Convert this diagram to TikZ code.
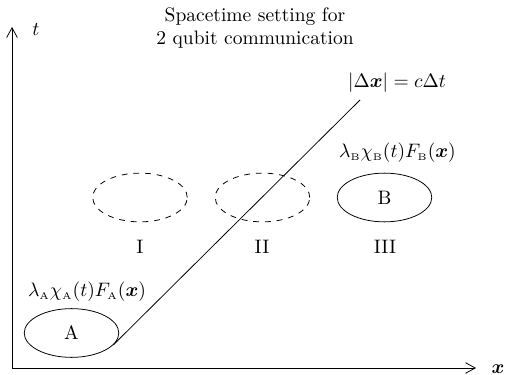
\documentclass[tikz,border=0pt]{standalone}
\usepackage{amsmath}
\usetikzlibrary{arrows.meta,shapes.geometric}
\begin{document}
\begin{tikzpicture}[x=0.5128pt,y=-0.5128pt,
  region/.style={draw,ellipse,minimum width=48.5pt,minimum height=25pt,inner sep=0pt},
  virt/.style={region,dashed},
  axis/.style={-{Straight Barb[length=5pt,width=5.5pt]}},
  lbl/.style={inner sep=0pt}]
\useasboundingbox (0,0) rectangle (506,375);
\coordinate (O) at (12,368);
\coordinate (T) at (12,27);
\coordinate (X) at (476,368);
\draw[axis] (O) -- (T);
\draw[axis] (O) -- (X);
\node[lbl] (tl) at (36,30) {$t$};
\node[lbl] (xl) at (498,369) {$\boldsymbol{x}$};
\node[lbl,align=center] (title) at (255,28) {Spacetime setting for\\2 qubit communication};
\node[region] (A) at (71.5,333) {A};
\node[virt] (I) at (140,197.5) {};
\node[virt] (II) at (262.5,197.5) {};
\node[region] (B) at (384.5,197.5) {B};
\node[lbl] (lI) at (140,247) {I};
\node[lbl] (lII) at (262,247) {II};
\node[lbl] (lIII) at (385,247) {III};
\node[lbl] (fA) at (87,292) {$\lambda_{\scriptscriptstyle\mathrm{A}}\chi_{\scriptscriptstyle\mathrm{A}}(t)F_{\scriptscriptstyle\mathrm{A}}(\boldsymbol{x})$};
\node[lbl] (fB) at (397.5,153) {$\lambda_{\scriptscriptstyle\mathrm{B}}\chi_{\scriptscriptstyle\mathrm{B}}(t)F_{\scriptscriptstyle\mathrm{B}}(\boldsymbol{x})$};
\node[lbl] (lc) at (397,83) {$|\Delta\boldsymbol{x}|=c\Delta t$};
\coordinate (E) at (360,100);
\draw (A.-16.5) -- (E);
\end{tikzpicture}
\end{document}
